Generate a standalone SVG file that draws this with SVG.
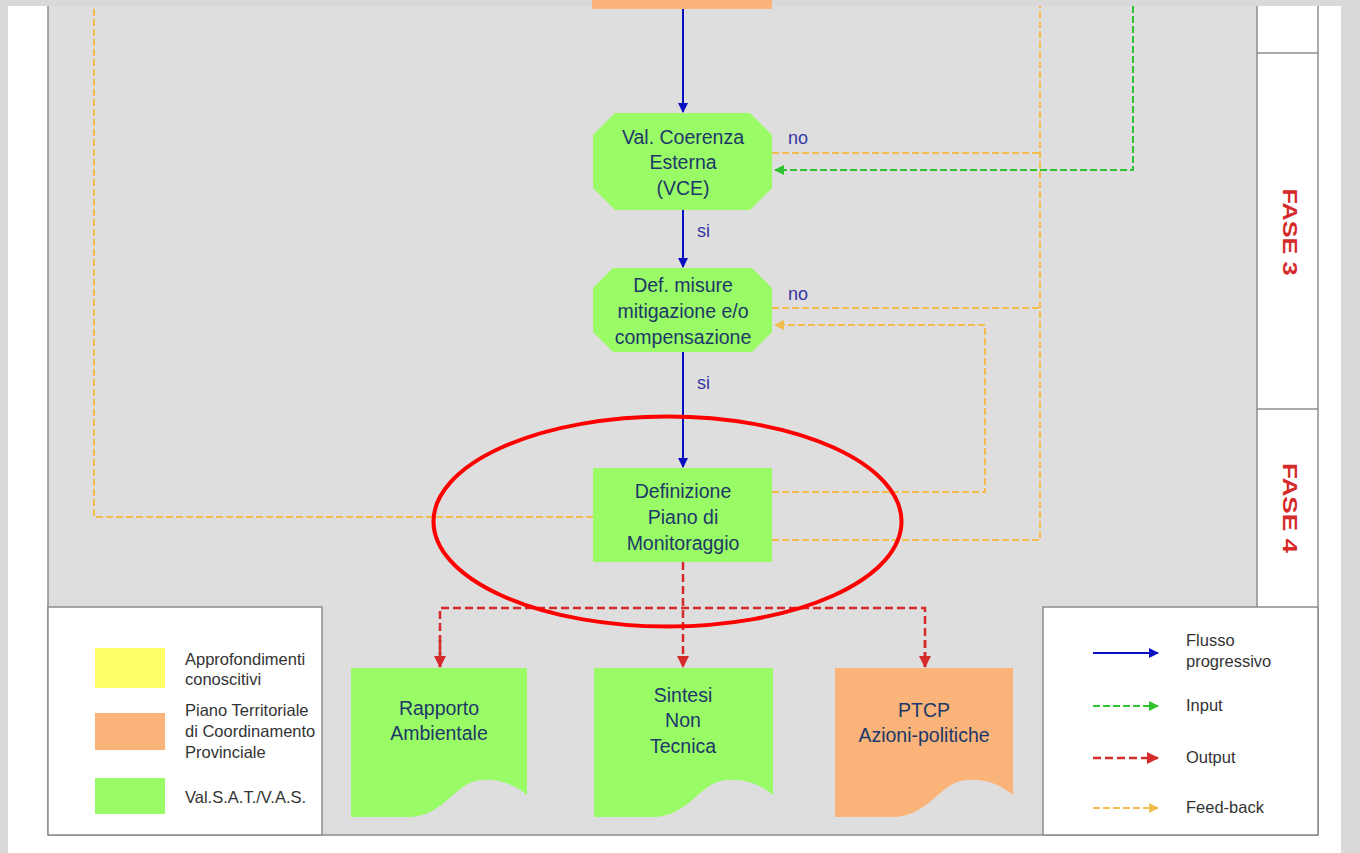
<svg xmlns="http://www.w3.org/2000/svg" width="1360" height="853" viewBox="0 0 1360 853">
<defs>
<style>
.node{font-family:"Liberation Sans",Arial,sans-serif;font-size:19.5px;fill:#1d3868;text-anchor:middle}
.lab{font-family:"Liberation Sans",Arial,sans-serif;font-size:18px;fill:#3535a0}
.leg{font-family:"Liberation Sans",Arial,sans-serif;font-size:16.5px;fill:#333}
.fase{font-family:"Liberation Sans",Arial,sans-serif;font-size:21px;font-weight:bold;fill:#d42a2a;text-anchor:middle}
.blue{stroke:#0a10c0;stroke-width:2;fill:none}
.fb{stroke:#f2bd4c;stroke-width:2;fill:none;stroke-dasharray:7 3}
.inp{stroke:#2fc42f;stroke-width:2;fill:none;stroke-dasharray:7 3}
.out{stroke:#d42a2a;stroke-width:2.5;fill:none;stroke-dasharray:8 4}
.green{fill:#99fb66}
.orange{fill:#fab47a}
.frame{stroke:#8c8c8c;stroke-width:1.5;fill:none}
</style>
<marker id="aB" markerWidth="10" markerHeight="10" refX="9" refY="5" orient="auto" markerUnits="userSpaceOnUse"><path d="M0,0 L10,5 L0,10 Z" fill="#0a10c0"/></marker>
<marker id="aG" markerWidth="10" markerHeight="10" refX="9" refY="5" orient="auto" markerUnits="userSpaceOnUse"><path d="M0,0 L10,5 L0,10 Z" fill="#2fc42f"/></marker>
<marker id="aR" markerWidth="12" markerHeight="12" refX="11" refY="6" orient="auto" markerUnits="userSpaceOnUse"><path d="M0,0 L12,6 L0,12 Z" fill="#d42a2a"/></marker>
<marker id="aY" markerWidth="10" markerHeight="10" refX="9" refY="5" orient="auto" markerUnits="userSpaceOnUse"><path d="M0,0 L10,5 L0,10 Z" fill="#f2bd4c"/></marker>
</defs>
<rect x="0" y="0" width="1360" height="853" fill="#d9d9d9"/>
<rect x="8" y="6" width="1333" height="847" fill="#ffffff"/>
<rect x="48" y="6" width="1209" height="829" fill="#dedede"/>
<rect x="1257" y="6" width="61" height="601" fill="#ffffff"/>
<g id="frame">
<line x1="48" y1="6" x2="48" y2="835" class="frame"/>
<line x1="1257" y1="6" x2="1257" y2="607" class="frame"/>
<line x1="1318" y1="6" x2="1318" y2="835" class="frame"/>
<line x1="48" y1="835" x2="1318" y2="835" class="frame"/>
<line x1="1257" y1="53" x2="1318" y2="53" class="frame"/>
<line x1="1257" y1="409" x2="1318" y2="409" class="frame"/>
<text class="fase" transform="translate(1283,232) rotate(90)" textLength="87" lengthAdjust="spacingAndGlyphs">FASE 3</text>
<text class="fase" transform="translate(1283,508) rotate(90)" textLength="90" lengthAdjust="spacingAndGlyphs">FASE 4</text>
</g>
<g id="connectors">
<line x1="683" y1="9" x2="683" y2="112" class="blue" marker-end="url(#aB)"/>
<line x1="683" y1="210" x2="683" y2="267" class="blue" marker-end="url(#aB)"/>
<line x1="683" y1="352" x2="683" y2="467" class="blue" marker-end="url(#aB)"/>
<text class="lab" x="697" y="237">si</text>
<text class="lab" x="697" y="389">si</text>
<path d="M593,517 H94 V6" class="fb"/>
<path d="M772,540 H1040 V6" class="fb"/>
<path d="M772,153 H1040" class="fb"/>
<path d="M772,308 H1040" class="fb"/>
<path d="M772,492 H985 V325 H775" class="fb" marker-end="url(#aY)"/>
<path d="M1133,6 V170 H775" class="inp" marker-end="url(#aG)"/>
<text class="lab" x="788" y="144">no</text>
<text class="lab" x="788" y="300">no</text>
<line x1="683" y1="562" x2="683" y2="667" class="out" marker-end="url(#aR)"/>
<path d="M440,667 V608 H925 V667" class="out"/>
<line x1="440" y1="640" x2="440" y2="667" class="out" marker-end="url(#aR)"/>
<line x1="925" y1="640" x2="925" y2="667" class="out" marker-end="url(#aR)"/>
</g>
<g id="node-ptcp-top">
<rect x="592" y="0" width="180" height="9" class="orange"/>
</g>
<g id="node-vce">
<path d="M615,113 H750 L772,135 V188 L750,210 H615 L593,188 V135 Z" class="green"/>
<text class="node" x="683" y="144">Val. Coerenza</text>
<text class="node" x="683" y="169">Esterna</text>
<text class="node" x="683" y="195">(VCE)</text>
</g>
<g id="node-misure">
<path d="M613,268 H752 L772,288 V332 L752,352 H613 L593,332 V288 Z" class="green"/>
<text class="node" x="683" y="292">Def. misure</text>
<text class="node" x="683" y="318">mitigazione e/o</text>
<text class="node" x="683" y="344">compensazione</text>
</g>
<g id="node-monitoraggio">
<rect x="593" y="468" width="179" height="94" class="green"/>
<text class="node" x="683" y="498">Definizione</text>
<text class="node" x="683" y="524">Piano di</text>
<text class="node" x="683" y="550">Monitoraggio</text>
</g>
<g id="node-rapporto">
<path d="M351,668 H527 V795 C512,782 490,776 472,782 C452,790 440,816 410,817 L351,817 Z" class="green"/>
<text class="node" x="439" y="715">Rapporto</text>
<text class="node" x="439" y="740">Ambientale</text>
</g>
<g id="node-sintesi">
<path d="M594,668 H773 V795 C758,782 736,776 717,782 C697,790 685,816 654,817 L594,817 Z" class="green"/>
<text class="node" x="683" y="702">Sintesi</text>
<text class="node" x="683" y="727">Non</text>
<text class="node" x="683" y="753">Tecnica</text>
</g>
<g id="node-ptcp">
<path d="M835,668 H1013 V795 C998,782 976,776 957,782 C937,790 925,816 894,817 L835,817 Z" class="orange"/>
<text class="node" x="924" y="717">PTCP</text>
<text class="node" x="924" y="742">Azioni-politiche</text>
</g>
<g id="legend-colors">
<rect x="48" y="607" width="274" height="228" fill="#ffffff" stroke="#8c8c8c" stroke-width="1.5"/>
<rect x="95" y="648" width="70" height="40" fill="#ffff66"/>
<rect x="95" y="713" width="70" height="37" class="orange"/>
<rect x="95" y="778" width="70" height="36" class="green"/>
<text class="leg" x="185" y="665">Approfondimenti</text>
<text class="leg" x="185" y="685">conoscitivi</text>
<text class="leg" x="185" y="716">Piano Territoriale</text>
<text class="leg" x="185" y="737">di Coordinamento</text>
<text class="leg" x="185" y="758">Provinciale</text>
<text class="leg" x="185" y="803">Val.S.A.T./V.A.S.</text>
</g>
<g id="legend-arrows">
<rect x="1043" y="607" width="275" height="228" fill="#ffffff" stroke="#8c8c8c" stroke-width="1.5"/>
<line x1="1093" y1="653" x2="1158" y2="653" class="blue" stroke-width="3" marker-end="url(#aB)"/>
<line x1="1093" y1="706" x2="1158" y2="706" class="inp" marker-end="url(#aG)"/>
<line x1="1093" y1="758" x2="1158" y2="758" class="out" marker-end="url(#aR)"/>
<line x1="1093" y1="808" x2="1158" y2="808" class="fb" marker-end="url(#aY)"/>
<text class="leg" x="1186" y="646">Flusso</text>
<text class="leg" x="1186" y="667">progressivo</text>
<text class="leg" x="1186" y="711">Input</text>
<text class="leg" x="1186" y="763">Output</text>
<text class="leg" x="1186" y="813">Feed-back</text>
</g>
<g id="highlight">
<ellipse cx="667.5" cy="521.5" rx="234" ry="105" fill="none" stroke="#ff0000" stroke-width="4"/>
</g>
</svg>
